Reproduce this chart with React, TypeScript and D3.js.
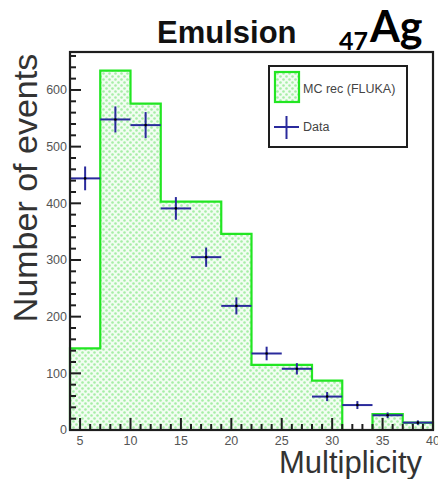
import React from 'react';
import * as d3 from 'd3';

const binEdges = [4, 7, 10, 13, 16, 19, 22, 25, 28, 31, 34, 37, 40];
const mcCounts = [144, 634, 576, 403, 403, 346, 115, 115, 87, 0, 28, 13];
const dataCounts = [444, 548, 538, 391, 305, 219, 135, 108, 59, 44, 26, 13];
const dataErrors = [21, 23, 23, 20, 17, 15, 12, 10, 8, 7, 5, 4];
const xTicks = [5, 10, 15, 20, 25, 30, 35, 40];
const yTicks = [0, 100, 200, 300, 400, 500, 600];

const W = 438;
const H = 479;
const FONT = "'Liberation Sans', Arial, sans-serif";

export default function App() {
  const x = d3.scaleLinear().domain([4, 40]).range([70, 433]);
  const y = d3.scaleLinear().domain([0, 667]).range([430, 52]);

  const pts: [number, number][] = [[binEdges[0], 0]];
  mcCounts.forEach((c, i) => {
    pts.push([binEdges[i], c]);
    pts.push([binEdges[i + 1], c]);
  });
  pts.push([binEdges[binEdges.length - 1], 0]);
  const line = d3.line<[number, number]>().x(d => x(d[0])).y(d => y(d[1]));
  const path = line(pts) || '';

  const xMinor = d3.range(4, 41, 1).filter(v => v % 5 !== 0);
  const yMinor = d3.range(0, 667, 20).filter(v => v % 100 !== 0);

  const navy = '#2a2a9c';
  const green = '#22e622';
  const frame = '#1e1e1e';

  return (
    <svg width={W} height={H} style={{ position: 'absolute', left: 0, top: 0, background: '#fff' }}>
      <defs>
        <pattern id="dots" width={6} height={6} patternUnits="userSpaceOnUse">
          <rect width={6} height={6} fill="#f2fdf2" />
          <circle cx={1.5} cy={1.5} r={1.3} fill="#a6eea6" />
          <circle cx={4.5} cy={4.5} r={1.3} fill="#a6eea6" />
        </pattern>
      </defs>
      <rect x={0} y={0} width={W} height={H} fill="#fff" />

      {/* MC histogram */}
      <path d={path} fill="url(#dots)" stroke="none" />
      <path d={path} fill="none" stroke={green} strokeWidth={2.2} />

      {/* Data points */}
      {dataCounts.map((c, i) => {
        const cx = x((binEdges[i] + binEdges[i + 1]) / 2);
        return (
          <g key={i}>
            <line x1={x(binEdges[i])} x2={x(binEdges[i + 1])} y1={y(c)} y2={y(c)} stroke={navy} strokeWidth={2} />
            <line x1={cx} x2={cx} y1={y(c - dataErrors[i])} y2={y(c + dataErrors[i])} stroke={navy} strokeWidth={2} />
            <circle cx={cx} cy={y(c)} r={1.3} fill="#000" />
          </g>
        );
      })}

      {/* Frame */}
      <rect x={70} y={52} width={363} height={378} fill="none" stroke={frame} strokeWidth={2.2} />

      {/* Y ticks */}
      {yTicks.map(t => (
        <g key={'y' + t}>
          <line x1={70} x2={81} y1={y(t)} y2={y(t)} stroke={frame} strokeWidth={2} />
          <text x={67} y={y(t)} dy="0.35em" textAnchor="end" fontFamily={FONT} fontSize={12.5} fill="#555">{t}</text>
        </g>
      ))}
      {yMinor.map(t => (
        <line key={'ym' + t} x1={70} x2={76} y1={y(t)} y2={y(t)} stroke={frame} strokeWidth={2} />
      ))}

      {/* X ticks */}
      {xTicks.map(t => (
        <g key={'x' + t}>
          <line x1={x(t)} x2={x(t)} y1={430} y2={418} stroke={frame} strokeWidth={2} />
          <text x={x(t)} y={445} textAnchor="middle" fontFamily={FONT} fontSize={12.5} fill="#555">{t}</text>
        </g>
      ))}
      {xMinor.map(t => (
        <line key={'xm' + t} x1={x(t)} x2={x(t)} y1={430} y2={424} stroke={frame} strokeWidth={2} />
      ))}

      {/* Axis titles */}
      <text transform="translate(37,188) rotate(-90)" textAnchor="middle" fontFamily={FONT} fontSize={34} fill="#333">Number of events</text>
      <text x={422} y={473} textAnchor="end" fontFamily={FONT} fontSize={31} fill="#333">Multiplicity</text>

      {/* Title */}
      <text x={157} y={43} fontFamily={FONT} fontWeight="bold" fontSize={31} fill="#111">Emulsion</text>
      <text x={339} y={50} fontFamily="Lato, 'Open Sans', sans-serif" fontWeight="bold" fontSize={25} fill="#000">47</text>
      <text x={370} y={42} fontFamily="Lato, 'Open Sans', sans-serif" fontWeight="bold" fontSize={43} fill="#000">Ag</text>

      {/* Legend */}
      <rect x={269} y={66} width={138} height={81} fill="#fff" stroke={frame} strokeWidth={2} />
      <rect x={275} y={72} width={24} height={30} fill="url(#dots)" stroke={green} strokeWidth={2.2} />
      <text x={303} y={89} dy="0.35em" fontFamily={FONT} fontSize={12.5} fill="#444">MC rec (FLUKA)</text>
      <line x1={274} x2={299} y1={127} y2={127} stroke={navy} strokeWidth={2} />
      <line x1={286.5} x2={286.5} y1={116} y2={139} stroke={navy} strokeWidth={2} />
      <text x={303} y={127} dy="0.35em" fontFamily={FONT} fontSize={12.5} fill="#444">Data</text>
    </svg>
  );
}
